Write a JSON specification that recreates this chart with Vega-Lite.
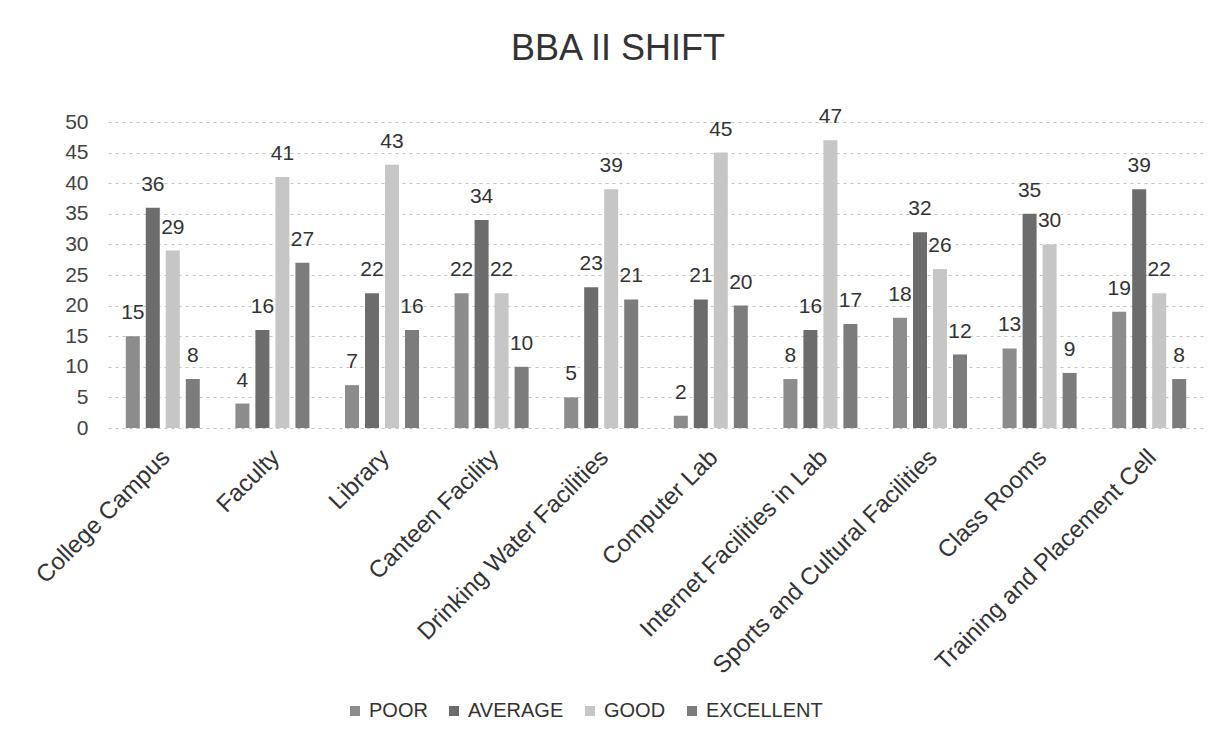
{
  "$schema": "https://vega.github.io/schema/vega-lite/v6.json",
  "autosize": {"type": "none"},
  "width": 1096,
  "height": 306,
  "padding": {"left": 108, "top": 122, "right": 25, "bottom": 316},
  "background": "white",
  "title": {"text": "BBA II SHIFT", "fontSize": 36, "font": "Liberation Sans", "fontWeight": "normal", "color": "#333333", "anchor": "middle", "offset": 38, "dx": -38},
  "data": {"values": [
    {"facility": "College Campus", "rating": "POOR", "count": 15},
    {"facility": "College Campus", "rating": "AVERAGE", "count": 36},
    {"facility": "College Campus", "rating": "GOOD", "count": 29},
    {"facility": "College Campus", "rating": "EXCELLENT", "count": 8},
    {"facility": "Faculty", "rating": "POOR", "count": 4},
    {"facility": "Faculty", "rating": "AVERAGE", "count": 16},
    {"facility": "Faculty", "rating": "GOOD", "count": 41},
    {"facility": "Faculty", "rating": "EXCELLENT", "count": 27},
    {"facility": "Library", "rating": "POOR", "count": 7},
    {"facility": "Library", "rating": "AVERAGE", "count": 22},
    {"facility": "Library", "rating": "GOOD", "count": 43},
    {"facility": "Library", "rating": "EXCELLENT", "count": 16},
    {"facility": "Canteen Facility", "rating": "POOR", "count": 22},
    {"facility": "Canteen Facility", "rating": "AVERAGE", "count": 34},
    {"facility": "Canteen Facility", "rating": "GOOD", "count": 22},
    {"facility": "Canteen Facility", "rating": "EXCELLENT", "count": 10},
    {"facility": "Drinking Water Facilities", "rating": "POOR", "count": 5},
    {"facility": "Drinking Water Facilities", "rating": "AVERAGE", "count": 23},
    {"facility": "Drinking Water Facilities", "rating": "GOOD", "count": 39},
    {"facility": "Drinking Water Facilities", "rating": "EXCELLENT", "count": 21},
    {"facility": "Computer Lab", "rating": "POOR", "count": 2},
    {"facility": "Computer Lab", "rating": "AVERAGE", "count": 21},
    {"facility": "Computer Lab", "rating": "GOOD", "count": 45},
    {"facility": "Computer Lab", "rating": "EXCELLENT", "count": 20},
    {"facility": "Internet Facilities in Lab", "rating": "POOR", "count": 8},
    {"facility": "Internet Facilities in Lab", "rating": "AVERAGE", "count": 16},
    {"facility": "Internet Facilities in Lab", "rating": "GOOD", "count": 47},
    {"facility": "Internet Facilities in Lab", "rating": "EXCELLENT", "count": 17},
    {"facility": "Sports and Cultural Facilities", "rating": "POOR", "count": 18},
    {"facility": "Sports and Cultural Facilities", "rating": "AVERAGE", "count": 32},
    {"facility": "Sports and Cultural Facilities", "rating": "GOOD", "count": 26},
    {"facility": "Sports and Cultural Facilities", "rating": "EXCELLENT", "count": 12},
    {"facility": "Class Rooms", "rating": "POOR", "count": 13},
    {"facility": "Class Rooms", "rating": "AVERAGE", "count": 35},
    {"facility": "Class Rooms", "rating": "GOOD", "count": 30},
    {"facility": "Class Rooms", "rating": "EXCELLENT", "count": 9},
    {"facility": "Training and Placement Cell", "rating": "POOR", "count": 19},
    {"facility": "Training and Placement Cell", "rating": "AVERAGE", "count": 39},
    {"facility": "Training and Placement Cell", "rating": "GOOD", "count": 22},
    {"facility": "Training and Placement Cell", "rating": "EXCELLENT", "count": 8}
  ]},
  "encoding": {
    "x": {"field": "facility", "type": "nominal", "sort": null, "title": null,
      "scale": {"paddingInner": 0.27, "paddingOuter": 0.135},
      "axis": {"labelAngle": -45, "labelFontSize": 24, "labelFont": "Liberation Sans", "labelColor": "#333333", "labelPadding": 17, "labelOffset": -5, "domain": false, "ticks": false, "labelLimit": 400}},
    "xOffset": {"field": "rating", "type": "nominal", "sort": ["POOR", "AVERAGE", "GOOD", "EXCELLENT"],
      "scale": {"paddingInner": 0.3, "paddingOuter": 0.15}},
    "y": {"field": "count", "type": "quantitative", "title": null,
      "scale": {"domain": [0, 50], "nice": false},
      "axis": {"values": [0, 5, 10, 15, 20, 25, 30, 35, 40, 45, 50], "labelFontSize": 21, "labelFont": "Liberation Sans", "labelColor": "#444444", "labelPadding": 20, "domain": false, "ticks": false, "grid": true, "gridColor": "#c4c4c4", "gridDash": [3, 4], "gridWidth": 1}}
  },
  "layer": [
    {"mark": {"type": "bar"},
     "encoding": {
       "color": {"field": "rating", "type": "nominal",
         "scale": {"domain": ["POOR", "AVERAGE", "GOOD", "EXCELLENT"], "range": ["#8c8c8c", "#6c6c6c", "#c6c6c6", "#7c7c7c"]},
         "legend": {"title": null, "orient": "none", "legendX": 237, "legendY": 579, "direction": "horizontal", "labelFontSize": 20, "labelFont": "Liberation Sans", "labelColor": "#333333", "symbolType": "square", "symbolSize": 100, "columnPadding": 16, "labelOffset": 4}
       }
     }},
    {"mark": {"type": "text", "baseline": "bottom", "dy": -13, "fontSize": 21, "font": "Liberation Sans", "color": "#333333"},
     "encoding": {"text": {"field": "count", "type": "quantitative"}}}
  ],
  "config": {"view": {"stroke": null}}
}
